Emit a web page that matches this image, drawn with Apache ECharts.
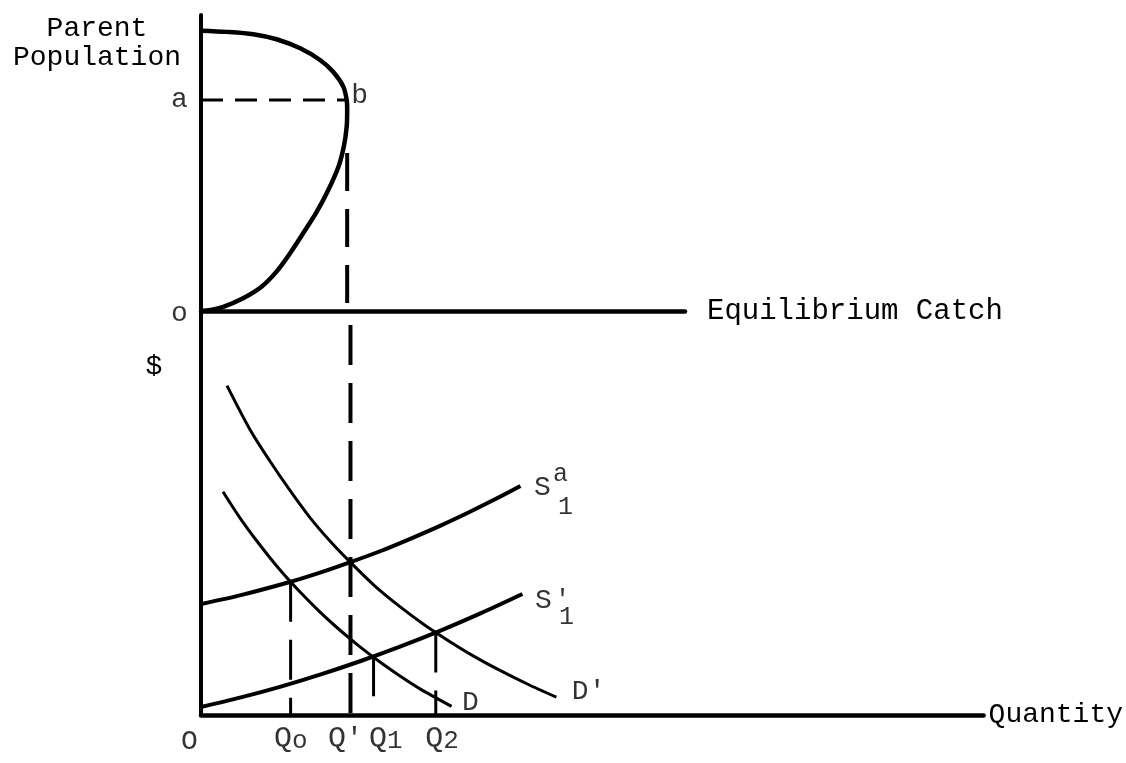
<!DOCTYPE html>
<html><head><meta charset="utf-8">
<script src="https://cdn.jsdelivr.net/npm/echarts@6/dist/echarts.min.js"></script>
<style>html,body{margin:0;padding:0;background:#fff}#c{width:1126px;height:763px}</style>
</head><body><div id="c"></div>
<script>
// ---------- data (schematic units) ----------
// Top panel: parent population (y) vs equilibrium catch (x)
const yieldCatch = [0, 5.3, 10.8, 15.6, 20.5, 24.6, 27.3, 29.4, 30.1, 30.2, 30.1, 29.5, 28.4, 26.3, 23.9, 21.1, 18.4, 15.6, 12.5, 8.7, 4.6, 2.0, 0];
const yieldPop   = [94.7, 94.3, 93.5, 91.8, 88.75, 84.8, 80.8, 75.8, 71.3, 67.9, 62.3, 55.5, 48.75, 40.9, 33.5, 26.25, 19.5, 13.3, 8.2, 4.3, 1.4, 0.35, 0];
const aLevel = 71.3;          // parent population "a"
const bCatch = 30.2;          // catch at point b
const qPrimeTopStart = 53.4;  // where the Q' dashed drop starts in the top panel

// Bottom panel: supply curves S1a, S1' and demand curves D, D'
const supplyAQty   = [0, 5.1, 11.35, 15.31, 19.0, 22.96, 27.04, 30.61, 34.31, 37.63, 40.82];
const supplyAPrice = [27.75, 29.97, 33.25, 35.65, 38.15, 41.0, 44.3, 47.35, 50.75, 53.98, 57.25];
const supplyPQty   = [0, 5.1, 10.2, 15.31, 20.41, 25.51, 30.61, 35.71, 41.07];
const supplyPPrice = [2.0, 4.4, 7.1, 10.15, 13.5, 17.15, 21.1, 25.4, 30.25];
const demandQty    = [2.81, 4.97, 7.53, 10.08, 12.63, 15.18, 17.73, 20.28, 22.83, 25.38, 27.93, 32.02];
const demandPrice  = [55.8, 49.3, 42.5, 36.3, 30.8, 25.8, 21.25, 17.1, 13.3, 9.8, 6.6, 2.15];
const demandPQty   = [3.32, 6.25, 8.8, 11.35, 13.9, 16.45, 19.0, 22.19, 25.38, 28.57, 31.76, 34.95, 38.14, 41.96, 45.41];
const demandPPrice = [82.35, 71.4, 63.5, 56.2, 49.4, 43.55, 38.35, 32.3, 27.15, 22.5, 18.4, 14.6, 11.2, 7.5, 4.45];

// Equilibrium quantities (tick labels) and heights where their dashed drops start
const qNames  = ['Q0', "Q'", 'Q1', 'Q2'];
const qValues = [11.45, 19.1, 22.05, 30.0];
const qTops   = [33.3, 97.5, 14.7, 20.6];

// ---------- styling ----------
const FONT = 'Liberation Mono';
const INK = '#000';
const zip = (a, b) => a.map((v, i) => [v, b[i]]);
const last = (a) => a[a.length - 1];

const axisCommon = {
  type: 'value', axisTick: {show: false}, axisLabel: {show: false}, splitLine: {show: false}
};
const nameStyle = {fontFamily: FONT, fontSize: 28, color: INK};
const baseText = {fontFamily: FONT, fontSize: 28, color: INK};

const qRich = {
  q:  {fontFamily: FONT, fontSize: 30, color: INK, lineHeight: 30, verticalAlign: 'top'},
  pr: {fontFamily: FONT, fontSize: 28, color: INK, lineHeight: 30, verticalAlign: 'top'},
  sub:{fontFamily: FONT, fontSize: 26, color: INK, lineHeight: 22, padding: [18, 0, 0, 0], verticalAlign: 'bottom'}
};
const qOffsets = [[-16, 10], [-22, 10], [-4, 10], [-10, 10]];
function qText(name) {
  if (name === "Q'") return "{q|Q}{pr|'}";
  const s = name.slice(1) === '0' ? 'o' : name.slice(1);
  return '{q|Q}{sub|' + s + '}';
}

const sRich = {
  S:   {fontFamily: FONT, fontSize: 28, color: INK, lineHeight: 18},
  S2:  {fontFamily: FONT, fontSize: 28, color: INK, lineHeight: 20},
  sup: {fontFamily: FONT, fontSize: 25, color: INK, lineHeight: 8},
  pr:  {fontFamily: FONT, fontSize: 26, color: INK, lineHeight: 20, padding: [0, 0, 0, 3]},
  sp1: {width: 19, lineHeight: 8},
  sp2: {width: 24, lineHeight: 22},
  sp3: {width: 24, lineHeight: 14},
  sub: {fontFamily: FONT, fontSize: 25, color: INK, lineHeight: 22},
  sub2:{fontFamily: FONT, fontSize: 25, color: INK, lineHeight: 14}
};

function anchor(pt, text, pos, align, vAlign, rich) {
  return {
    value: pt,
    label: Object.assign({show: true, formatter: text, position: pos, align: align || 'center',
      verticalAlign: vAlign || 'middle', rich: rich}, baseText)
  };
}

const lineBase = {type: 'line', symbol: 'none', silent: true, animation: false};
const curveBase = Object.assign({}, lineBase, {xAxisIndex: 1, yAxisIndex: 1, smooth: 0.3});

const option = {
  backgroundColor: '#fff',
  animation: false,
  grid: [
    {left: 201, top: 15, width: 484, height: 296},
    {left: 201, top: 311, width: 784, height: 404}
  ],
  xAxis: [
    Object.assign({}, axisCommon, {gridIndex: 0, min: 0, max: 100,
      axisLine: {show: true, onZero: false, lineStyle: {color: INK, width: 4.5}},
      name: 'Equilibrium Catch', nameLocation: 'end', nameGap: 22,
      nameTextStyle: Object.assign({}, nameStyle, {fontSize: 29, verticalAlign: 'middle', padding: [0, 0, 6, 0]})}),
    Object.assign({}, axisCommon, {gridIndex: 1, min: 0, max: 100,
      axisLine: {show: true, onZero: false, lineStyle: {color: INK, width: 4.5}},
      name: 'Quantity', nameLocation: 'end', nameGap: 5,
      nameTextStyle: Object.assign({verticalAlign: 'middle'}, nameStyle)})
  ],
  yAxis: [
    Object.assign({}, axisCommon, {gridIndex: 0, min: 0, max: 100,
      axisLine: {show: true, onZero: false, lineStyle: {color: INK, width: 4}}}),
    Object.assign({}, axisCommon, {gridIndex: 1, min: 0, max: 101,
      axisLine: {show: true, onZero: false, lineStyle: {color: INK, width: 4}}})
  ],
  graphic: [
    {type: 'text', x: 97, y: 43, silent: true,
     style: {text: 'Parent\nPopulation', fontFamily: FONT, fontSize: 28, fill: INK,
             align: 'center', verticalAlign: 'middle', lineHeight: 29}},
    {type: 'text', x: 154, y: 367, silent: true,
     style: {text: '$', fontFamily: FONT, fontSize: 28, fill: INK, align: 'center', verticalAlign: 'middle'}}
  ],
  series: [
    // ---- top panel ----
    Object.assign({}, lineBase, {xAxisIndex: 0, yAxisIndex: 0, smooth: 0.3,
      data: zip(yieldCatch, yieldPop), lineStyle: {color: INK, width: 4.5}}),
    Object.assign({}, lineBase, {xAxisIndex: 0, yAxisIndex: 0,
      data: [[0, aLevel], [bCatch, aLevel]], lineStyle: {color: INK, width: 3, type: [22, 12]}}),
    Object.assign({}, lineBase, {xAxisIndex: 0, yAxisIndex: 0,
      data: [[bCatch, qPrimeTopStart], [bCatch, 0]], lineStyle: {color: INK, width: 4, type: [38, 18]}}),
    {type: 'scatter', xAxisIndex: 0, yAxisIndex: 0, symbolSize: 1, silent: true, animation: false, clip: false,
     itemStyle: {color: 'transparent'},
     data: [
       anchor([0, aLevel], 'a', [-21, 0]),
       anchor([bCatch, aLevel], 'b', [13, -4]),
       anchor([0, 0], 'o', [-21, 3])
     ]},
    // ---- bottom panel ----
    Object.assign({}, curveBase, {data: zip(supplyAQty, supplyAPrice), lineStyle: {color: INK, width: 4}}),
    Object.assign({}, curveBase, {data: zip(supplyPQty, supplyPPrice), lineStyle: {color: INK, width: 4}}),
    Object.assign({}, curveBase, {data: zip(demandQty, demandPrice), lineStyle: {color: INK, width: 3}}),
    Object.assign({}, curveBase, {data: zip(demandPQty, demandPPrice), lineStyle: {color: INK, width: 3}}),
  ].concat(qValues.map((q, i) => Object.assign({}, lineBase, {xAxisIndex: 1, yAxisIndex: 1,
      data: [[q, qTops[i]], [q, 0]],
      lineStyle: {color: INK, width: qNames[i] === "Q'" ? 4 : 3, type: [40, 18]}})))
  .concat([
    {type: 'scatter', xAxisIndex: 1, yAxisIndex: 1, symbolSize: 1, silent: true, animation: false, clip: false,
     itemStyle: {color: 'transparent'},
     data: qValues.map((q, i) => anchor([q, 0], qText(qNames[i]), qOffsets[i], 'left', 'top', qRich))
       .concat([
         anchor([0, 0], 'O', [-11, 27]),
         anchor([last(demandQty), last(demandPrice)], 'D', [11, -3], 'left'),
         anchor([last(demandPQty), last(demandPPrice)], "D'", [16, -5], 'left'),
         anchor([last(supplyAQty), last(supplyAPrice)],
                '{sp1| }{sup|a}\n{S|S}\n{sp2| }{sub|1}', [14, -15], 'left', 'top', sRich),
         anchor([last(supplyPQty), last(supplyPPrice)],
                "{S2|S}{pr|'}\n{sp3| }{sub2|1}", [13, -3], 'left', 'top', sRich)
       ])}
  ])
};

const chart = echarts.init(document.getElementById('c'), null, {renderer: 'canvas'});
chart.setOption(option);
</script>
</body></html>
